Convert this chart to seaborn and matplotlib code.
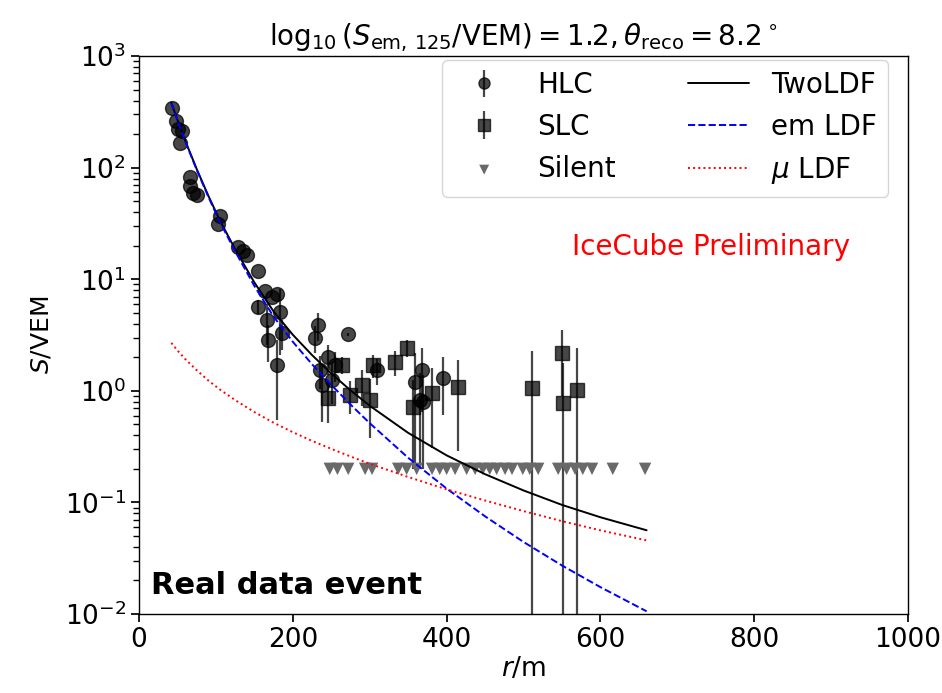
import numpy as np
import pandas as pd
import matplotlib
matplotlib.use("Agg")
import matplotlib.pyplot as plt
import seaborn as sns

# ---- HLC stations (r [m], S [VEM], error) ----
hlc_r = [42.3, 47.5, 50.1, 55.3, 52.7, 65.8, 65.8, 69.7, 74.9, 104.8, 102.2,
         128.3, 134.8, 140.0, 154.3, 163.4, 179.0, 172.5, 154.3, 182.9, 166.0,
         185.5, 167.3, 179.0, 232.4, 228.5, 271.5, 245.4, 254.6, 235.0, 237.6,
         250.7, 309.2, 358.7, 367.8, 365.2, 369.1, 395.2]
hlc_s = [344, 262, 223, 214, 167, 83, 69, 59, 57, 37, 31,
         19.5, 18, 16.5, 11.9, 7.9, 7.4, 6.9, 5.7, 5.1, 4.3,
         3.3, 2.86, 1.71, 3.9, 3.0, 3.2, 2.0, 1.71, 1.54, 1.13,
         1.26, 1.54, 1.2, 1.54, 0.83, 0.80, 1.31]
hlc_err = [0, 0, 0, 0, 0, 0, 0, 0, 0, 0, 0,
           0, 0, 0, 0, 0, 0, 0, 0.8, 3.0, 1.7,
           1.0, 1.05, 1.16, 1.1, 0.8, 0.1, 0.6, 0.5, 0.5, 0.6,
           0.5, 0.4, 1.0, 0.9, 0.63, 0.6, 0.7]

# ---- SLC stations ----
slc_r = [245.4, 263.7, 289.7, 300.1, 304.0, 332.7, 348.3, 356.1, 380.9,
         414.7, 511.1, 550.1, 551.4, 569.7, 274.1]
slc_s = [0.87, 1.71, 1.13, 0.83, 1.71, 1.82, 2.43, 0.72, 0.96,
         1.09, 1.06, 2.19, 0.78, 1.02, 0.92]
slc_err = [0.35, 0.3, 0.4, 0.45, 0.4, 0.45, 0.4, 0.52, 0.65,
           0.8, 1.2, 1.3, 1.0, 1.4, 0.3]

# ---- Silent stations ----
silent_r = [248, 258, 272, 294, 303, 337, 348, 361, 381, 391, 400, 411, 426,
            437, 447, 456, 465, 476, 485, 499, 508, 519, 545, 556, 567, 577,
            589, 616, 658]
silent_s = [0.2] * len(silent_r)

# ---- LDF curves ----
ldf_r = [42, 50, 60, 75, 90, 105, 125, 150, 175, 200, 225, 250, 275, 300,
         350, 400, 450, 500, 550, 600, 660]
em_ldf = [380, 265, 173, 95.7, 55.1, 32.8, 17.8, 8.71, 4.62, 2.75, 1.73, 1.13,
          0.754, 0.513, 0.251, 0.133, 0.075, 0.0442, 0.0272, 0.0174, 0.01057]
mu_ldf = [2.69, 2.30, 1.93, 1.53, 1.24, 1.03, 0.826, 0.645, 0.518, 0.426,
          0.356, 0.302, 0.258, 0.222, 0.169, 0.131, 0.104, 0.0836, 0.0679,
          0.0562, 0.0457]
two_ldf = [382.7, 267.3, 174.9, 97.2, 56.3, 33.8, 18.6, 9.36, 5.14, 3.18,
           2.09, 1.43, 1.01, 0.735, 0.42, 0.264, 0.179, 0.128, 0.095, 0.0736,
           0.0563]

sns.set_theme(style="ticks")
plt.rcParams["font.family"] = ["DejaVu Sans"]
plt.rcParams["mathtext.fontset"] = "dejavusans"
plt.rcParams["text.color"] = "black"
plt.rcParams["axes.labelcolor"] = "black"
plt.rcParams["xtick.color"] = "black"
plt.rcParams["ytick.color"] = "black"

fig = plt.figure(figsize=(9.42, 6.93), dpi=100)
ax = fig.add_axes([0.1476, 0.114, 0.8164, 0.805])

ax.errorbar(hlc_r, hlc_s, yerr=hlc_err, fmt="o", color="black", alpha=0.72,
            markersize=10, elinewidth=1.6, capsize=0, label="HLC", zorder=2)
ax.errorbar(slc_r, slc_s, yerr=slc_err, fmt="s", color="black", alpha=0.72,
            markersize=10, elinewidth=1.6, capsize=0, label="SLC", zorder=2)

df_sil = pd.DataFrame({"r": silent_r, "s": silent_s})
sns.scatterplot(data=df_sil, x="r", y="s", marker="v", color="dimgray",
                s=80, edgecolor="none", label="Silent", ax=ax, zorder=3)

df_ldf = pd.DataFrame({"r": ldf_r, "two": two_ldf, "em": em_ldf, "mu": mu_ldf})
sns.lineplot(data=df_ldf, x="r", y="two", color="black", lw=1.4,
             label="TwoLDF", ax=ax, zorder=4)
sns.lineplot(data=df_ldf, x="r", y="em", color="blue", lw=1.4, ls="--",
             label="em LDF", ax=ax, zorder=4)
sns.lineplot(data=df_ldf, x="r", y="mu", color="red", lw=1.4, ls=":",
             label=r"$\mu$ LDF", ax=ax, zorder=4)

ax.set_yscale("log")
ax.set_xlim(0, 1000)
ax.set_ylim(1e-2, 1e3)
ax.set_xticks([0, 200, 400, 600, 800, 1000])
ax.tick_params(axis="both", labelsize=19, direction="out", colors="black")
ax.set_xlabel(r"$r$/m", fontsize=19, labelpad=2)
ax.set_ylabel(r"$S$/VEM", fontsize=18, labelpad=8)
ax.set_title(r"$\log_{10}(S_{\mathrm{em},\,125}/\mathrm{VEM}) = 1.2, \theta_{\mathrm{reco}} = 8.2^\circ$",
             fontsize=20, pad=8, color="black")
for sp in ax.spines.values():
    sp.set_visible(True)
    sp.set_linewidth(1.0)
    sp.set_color("black")

handles, labels = ax.get_legend_handles_labels()
order = ["HLC", "SLC", "Silent", "TwoLDF", "em LDF", r"$\mu$ LDF"]
hmap = dict(zip(labels, handles))
leg = ax.legend([hmap[k] for k in order], order, ncol=2, loc="upper right",
                bbox_to_anchor=(0.974, 0.993), borderaxespad=0.0,
                fontsize=20, frameon=True, columnspacing=2.6, labelspacing=0.5,
                handlelength=2.2, handletextpad=0.8, markerscale=0.8)
for t in leg.get_texts():
    t.set_color("black")

ax.text(0.563, 0.643, "IceCube Preliminary", color="red", fontsize=20,
        transform=ax.transAxes)
ax.text(0.016, 0.035, "Real data event", color="black", fontsize=22,
        fontweight="bold", transform=ax.transAxes)

fig.savefig("out.png", dpi=100)
